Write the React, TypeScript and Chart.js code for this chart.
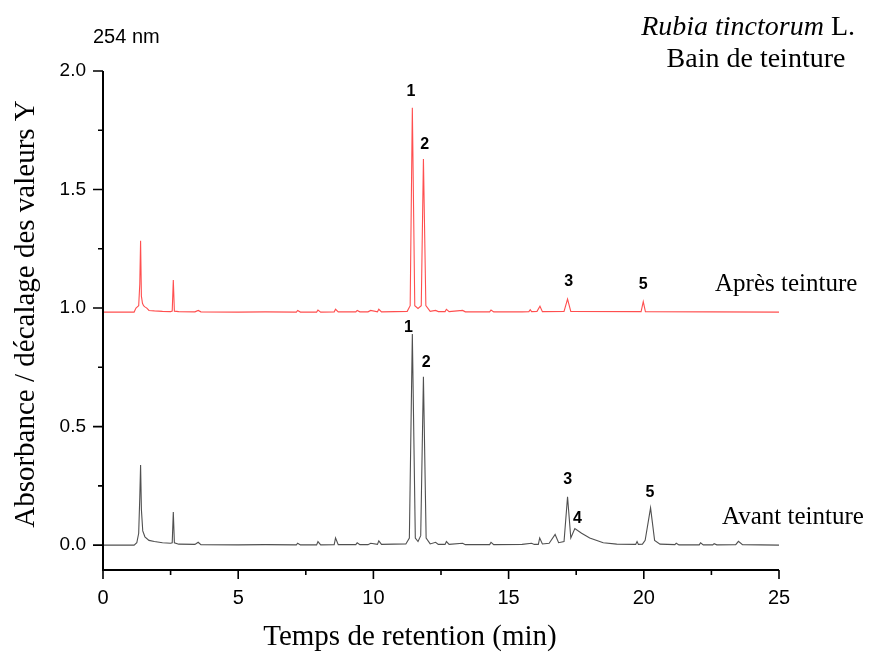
import React, { useEffect, useRef } from "react";
import { Chart, registerables } from "chart.js";
Chart.register(...registerables);

// Retention time (min) and absorbance
const avantTime = [0, 1.15, 1.25, 1.32, 1.36, 1.39, 1.42, 1.47, 1.55, 1.7, 1.9, 2.2, 2.5, 2.56, 2.6, 2.64, 2.8, 3.4, 3.52, 3.62, 5.0, 6.0, 7.15, 7.2, 7.3, 7.9, 7.95, 8.05, 8.55, 8.6, 8.7, 9.35, 9.4, 9.5, 9.8, 9.9, 10.15, 10.2, 10.3, 11.2, 11.33, 11.44, 11.55, 11.65, 11.75, 11.85, 11.95, 12.1, 12.3, 12.4, 12.65, 12.7, 12.8, 13.3, 13.4, 14.3, 14.35, 14.45, 15.5, 15.85, 15.95, 16.1, 16.15, 16.25, 16.5, 16.72, 16.85, 17.05, 17.18, 17.3, 17.45, 17.7, 18.0, 18.5, 19.0, 19.7, 19.75, 19.8, 19.95, 20.05, 20.25, 20.4, 20.6, 21.15, 21.2, 21.3, 22.05, 22.1, 22.2, 22.55, 22.6, 22.7, 23.4, 23.5, 23.65, 25];
const avantAbs = [0, 0, 0.01, 0.05, 0.2, 0.338, 0.15, 0.06, 0.035, 0.02, 0.015, 0.01, 0.008, 0.01, 0.14, 0.01, 0.004, 0.003, 0.012, 0.002, 0.001, 0.002, 0.001, 0.008, 0.001, 0.001, 0.015, 0.001, 0.002, 0.03, 0.002, 0.002, 0.01, 0.002, 0.002, 0.008, 0.003, 0.018, 0.003, 0.005, 0.03, 0.89, 0.03, 0.015, 0.04, 0.71, 0.03, 0.005, 0.012, 0.003, 0.003, 0.015, 0.003, 0.008, 0.002, 0.002, 0.012, 0.002, 0.003, 0.008, 0.003, 0.003, 0.03, 0.005, 0.008, 0.045, 0.01, 0.015, 0.204, 0.03, 0.07, 0.05, 0.03, 0.01, 0.004, 0.003, 0.015, 0.003, 0.004, 0.02, 0.157, 0.02, 0.004, 0.002, 0.008, 0.001, 0.001, 0.01, 0.001, 0.001, 0.006, 0.001, 0.002, 0.016, 0.002, 0];

const apresTime = [0, 1.15, 1.22, 1.27, 1.32, 1.36, 1.39, 1.42, 1.46, 1.5, 1.55, 1.62, 1.7, 1.9, 2.2, 2.5, 2.56, 2.6, 2.64, 2.8, 3.4, 3.52, 3.62, 5.0, 6.0, 7.15, 7.2, 7.3, 7.9, 7.95, 8.05, 8.55, 8.6, 8.7, 9.35, 9.4, 9.5, 9.8, 9.9, 10.15, 10.2, 10.3, 11.25, 11.36, 11.44, 11.53, 11.65, 11.77, 11.85, 11.94, 12.1, 12.3, 12.4, 12.65, 12.7, 12.8, 13.3, 13.4, 14.3, 14.35, 14.45, 15.5, 15.75, 15.8, 15.85, 16.05, 16.16, 16.25, 17.05, 17.18, 17.3, 19.9, 19.98, 20.06, 25];
const apresAbs = [0.983, 0.983, 1.0, 1.005, 1.01, 1.1, 1.284, 1.05, 1.02, 1.01, 1.005, 1.0, 0.99, 0.988, 0.986, 0.985, 0.987, 1.118, 0.987, 0.985, 0.984, 0.99, 0.984, 0.983, 0.984, 0.983, 0.99, 0.983, 0.983, 0.992, 0.983, 0.984, 0.995, 0.984, 0.984, 0.99, 0.984, 0.984, 0.99, 0.984, 0.995, 0.984, 0.986, 1.01, 1.845, 1.01, 0.998, 1.01, 1.629, 1.01, 0.986, 0.99, 0.985, 0.985, 0.995, 0.985, 0.99, 0.984, 0.984, 0.992, 0.984, 0.984, 0.985, 0.993, 0.985, 0.986, 1.008, 0.985, 0.986, 1.038, 0.986, 0.985, 1.027, 0.985, 0.983];

const xTickValues = [0, 5, 10, 15, 20, 25];
const yTickValues = [0, 0.5, 1.0, 1.5, 2.0];
const xMinorTicks = [2.5, 7.5, 12.5, 17.5, 22.5];
const yMinorTicks = [0.25, 0.75, 1.25, 1.75];

const apresPeakNames = ["1", "2", "3", "5"];
const apresPeakTime = [11.39, 11.9, 17.22, 19.98];
const apresPeakLabelY = [1.912, 1.69, 1.112, 1.1];
const avantPeakNames = ["1", "2", "3", "4", "5"];
const avantPeakTime = [11.3, 11.95, 17.19, 17.55, 20.23];
const avantPeakLabelY = [0.916, 0.77, 0.275, 0.11, 0.222];

const seriesNames = ["Après teinture", "Avant teinture"];

const SERIF = "'Liberation Serif', 'Times New Roman', serif";
const SANS = "'Liberation Sans', Arial, sans-serif";

const decorPlugin = {
  id: "decor",
  afterDraw(chart: any) {
    const ctx = chart.ctx;
    const xs = chart.scales.x;
    const ys = chart.scales.y;
    const ca = chart.chartArea;
    ctx.save();
    // axes
    ctx.strokeStyle = "#000";
    ctx.lineWidth = 2;
    ctx.beginPath();
    ctx.moveTo(ca.left, ca.top);
    ctx.lineTo(ca.left, ca.bottom);
    ctx.lineTo(ca.right, ca.bottom);
    ctx.stroke();
    ctx.lineWidth = 1.6;
    ctx.beginPath();
    xTickValues.forEach((v) => {
      const px = xs.getPixelForValue(v);
      ctx.moveTo(px, ca.bottom);
      ctx.lineTo(px, ca.bottom + 9);
    });
    xMinorTicks.forEach((v) => {
      const px = xs.getPixelForValue(v);
      ctx.moveTo(px, ca.bottom);
      ctx.lineTo(px, ca.bottom + 5);
    });
    yTickValues.forEach((v) => {
      const py = ys.getPixelForValue(v);
      ctx.moveTo(ca.left, py);
      ctx.lineTo(ca.left - 10, py);
    });
    yMinorTicks.forEach((v) => {
      const py = ys.getPixelForValue(v);
      ctx.moveTo(ca.left, py);
      ctx.lineTo(ca.left - 5, py);
    });
    ctx.stroke();

    // peak labels
    ctx.fillStyle = "#000";
    ctx.font = `bold 16px ${SANS}`;
    ctx.textAlign = "center";
    ctx.textBaseline = "middle";
    apresPeakNames.forEach((n, i) => {
      ctx.fillText(n, xs.getPixelForValue(apresPeakTime[i]), ys.getPixelForValue(apresPeakLabelY[i]));
    });
    avantPeakNames.forEach((n, i) => {
      ctx.fillText(n, xs.getPixelForValue(avantPeakTime[i]), ys.getPixelForValue(avantPeakLabelY[i]));
    });

    // wavelength
    ctx.font = `20px ${SANS}`;
    ctx.textAlign = "left";
    ctx.fillText("254 nm", 93, 37);

    // series names
    ctx.font = `25px ${SERIF}`;
    ctx.fillText(seriesNames[0], 715, 284);
    ctx.fillText(seriesNames[1], 722, 517);

    // title top right
    const t1 = "Rubia tinctorum";
    const t2 = " L.";
    ctx.font = `28px ${SERIF}`;
    const w2 = ctx.measureText(t2).width;
    ctx.font = `italic 28px ${SERIF}`;
    const w1 = ctx.measureText(t1).width;
    const right = 855;
    ctx.textAlign = "left";
    ctx.fillText(t1, right - w1 - w2, 28);
    ctx.font = `28px ${SERIF}`;
    ctx.fillText(t2, right - w2, 28);
    ctx.textAlign = "center";
    ctx.fillText("Bain de teinture", 756, 60);

    // axis titles
    ctx.font = `29px ${SERIF}`;
    ctx.fillText("Temps de retention (min)", 410, 637);
    ctx.save();
    ctx.translate(26, 314);
    ctx.rotate(-Math.PI / 2);
    ctx.font = `29px ${SERIF}`;
    ctx.fillText("Absorbance / décalage des valeurs Y", 0, 0);
    ctx.restore();
    ctx.restore();
  },
};

export default function App() {
  const ref = useRef<HTMLCanvasElement>(null);
  useEffect(() => {
    if (!ref.current) return;
    const chart = new Chart(ref.current, {
      type: "line",
      data: {
        datasets: [
          {
            label: seriesNames[0],
            data: apresTime.map((t, i) => ({ x: t, y: apresAbs[i] })),
            borderColor: "#ff4f4f",
            borderWidth: 1.1,
            pointRadius: 0,
            tension: 0,
            fill: false,
          },
          {
            label: seriesNames[1],
            data: avantTime.map((t, i) => ({ x: t, y: avantAbs[i] })),
            borderColor: "#505050",
            borderWidth: 1.1,
            pointRadius: 0,
            tension: 0,
            fill: false,
          },
        ],
      },
      options: {
        animation: false,
        responsive: false,
        maintainAspectRatio: false,
        layout: { padding: { left: 0, top: 71, right: 90, bottom: 0 } },
        plugins: { legend: { display: false }, tooltip: { enabled: false } },
        scales: {
          x: {
            type: "linear",
            min: 0,
            max: 25,
            grid: { display: false, drawTicks: false },
            border: { display: false },
            afterBuildTicks: (s: any) => {
              s.ticks = xTickValues.map((v) => ({ value: v }));
            },
            afterFit: (s: any) => {
              s.height = 85;
            },
            ticks: {
              padding: 16,
              color: "#000",
              font: { family: SANS, size: 20 },
              callback: (v: any) => String(v),
              maxRotation: 0,
            },
          },
          y: {
            type: "linear",
            min: -0.105,
            max: 2.0,
            grid: { display: false, drawTicks: false },
            border: { display: false },
            afterBuildTicks: (s: any) => {
              s.ticks = yTickValues.map((v) => ({ value: v }));
            },
            afterFit: (s: any) => {
              s.width = 103;
            },
            ticks: {
              padding: 17,
              color: "#000",
              font: { family: SANS, size: 19 },
              callback: (v: any) => Number(v).toFixed(1),
            },
          },
        },
      },
      plugins: [decorPlugin],
    });
    return () => chart.destroy();
  }, []);
  return (
    <div style={{ position: "fixed", left: 0, top: 0, width: 869, height: 655, background: "#fff" }}>
      <canvas ref={ref} width={869} height={655} />
    </div>
  );
}
